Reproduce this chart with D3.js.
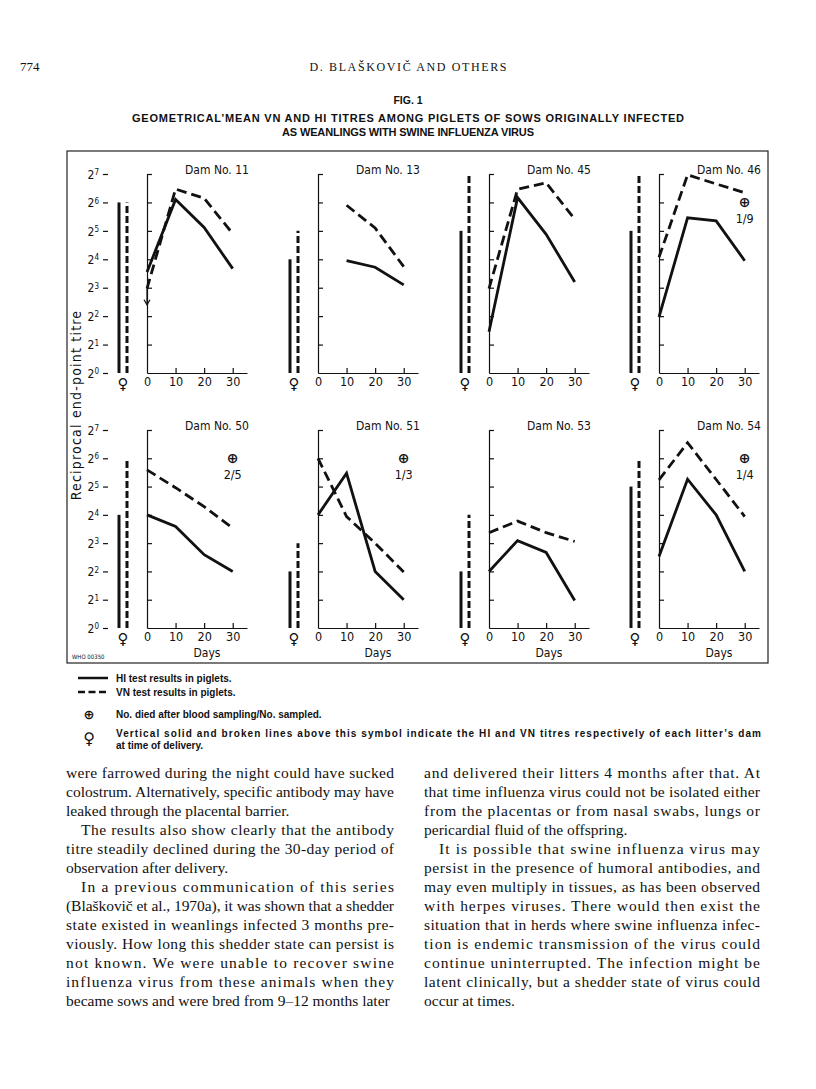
<!DOCTYPE html>
<html>
<head>
<meta charset="utf-8">
<script src="https://cdn.jsdelivr.net/npm/d3@7"></script>
<style>
  body { margin: 0; background: #fff; }
  text { fill: #111; }
  .sans { font-family: "Liberation Sans Narrow", "DejaVu Sans Condensed", "Liberation Sans", sans-serif; }
  .bold { font-family: "Liberation Sans", Arial, sans-serif; font-weight: bold; }
  .serif { font-family: "Liberation Serif", "DejaVu Serif", serif; }
  .axis path, .axis line { stroke: #111; stroke-width: 1.2; }
  .axis text { fill: #111; }
</style>
</head>
<body>
<div id="root"></div>
<script>
// geometric mean titres, as log2 values
const days = [0, 10, 20, 30];
const damNames = ['Dam No. 11', 'Dam No. 13', 'Dam No. 45', 'Dam No. 46',
                  'Dam No. 50', 'Dam No. 51', 'Dam No. 53', 'Dam No. 54'];
const hiTitres = [
  [3.55, 6.1, 5.12, 3.67],
  [null, 3.95, 3.72, 3.1],
  [1.45, 6.17, 4.88, 3.2],
  [1.97, 5.46, 5.35, 3.95],
  [4.0, 3.59, 2.59, 2.0],
  [4.0, 5.47, 2.0, 1.0],
  [2.0, 3.09, 2.67, 0.97],
  [2.53, 5.26, 4.0, 2.0]
];
const vnTitres = [
  [2.97, 6.47, 6.15, 4.9],
  [null, 5.9, 5.1, 3.74],
  [2.97, 6.46, 6.69, 5.41],
  [4.07, 6.97, 6.65, 6.34],
  [5.59, 4.96, 4.29, 3.53],
  [6.0, 3.94, 3.0, 1.98],
  [3.37, 3.78, 3.37, 3.06],
  [5.24, 6.55, 5.25, 3.94]
];
// dam's own titres at delivery (vertical bars above the female sign)
const damHI = [6, 4, 5, 5, 4, 2, 2, 5];
const damVN = [6, 5, 7, 7, 6, 3, 4, 6];
// no. died after blood sampling / no. sampled
const deaths = [null, null, null, '1/9', '2/5', '1/3', null, '1/4'];
// Dam 11, VN at day 0 is below the limit (arrow)
const belowLimit = [{ dam: 0, day: 0, from: 2.97, to: 2.4 }];
const yTicks = [0, 1, 2, 3, 4, 5, 6, 7];
const xTicks = [0, 10, 20, 30];

const headerText = 'D. BLAŠKOVIČ AND OTHERS';
const titleLines = [
  'GEOMETRICAL\u2019MEAN VN AND HI TITRES AMONG PIGLETS OF SOWS ORIGINALLY INFECTED',
  'AS WEANLINGS WITH SWINE INFLUENZA VIRUS'
];

const leftColumn = [
  ['were farrowed during the night could have sucked', 'colostrum.  Alternatively, specific antibody may have', 'leaked through the placental barrier.'],
  ['The results also show clearly that the antibody', 'titre steadily declined during the 30-day period of', 'observation after delivery.'],
  ['In a previous communication of this series', '(Blaškovič et al., 1970a), it was shown that a shedder', 'state existed in weanlings infected 3 months pre-',
   'viously.  How long this shedder state can persist is', 'not known.  We were unable to recover swine', 'influenza virus from these animals when they',
   'became sows and were bred from 9\u201312 months later']
];
const rightColumn = [
  ['and delivered their litters 4 months after that.  At', 'that time influenza virus could not be isolated either', 'from the placentas or from nasal swabs, lungs or', 'pericardial fluid of the offspring.'],
  ['It is possible that swine influenza virus may', 'persist in the presence of humoral antibodies, and', 'may even multiply in tissues, as has been observed',
   'with herpes viruses.  There would then exist the', 'situation that in herds where swine influenza infec-', 'tion is endemic transmission of the virus could',
   'continue uninterrupted.  The infection might be', 'latent clinically, but a shedder state of virus could', 'occur at times.']
];

const W = 816, H = 1089;
const panelX = [147, 318, 489, 659];
const rows = [{ top: 174, zero: 373 }, { top: 430, zero: 628 }];

const svg = d3.select('#root').append('svg')
  .attr('width', W).attr('height', H);

// page header
svg.append('text').attr('class', 'serif')
  .attr('x', 20).attr('y', 71).attr('font-size', 13).text('774');
svg.append('text').attr('class', 'serif')
  .attr('x', 408).attr('y', 71).attr('text-anchor', 'middle')
  .attr('font-size', 12).attr('textLength', 197).text(headerText);

svg.append('text').attr('class', 'bold')
  .attr('x', 408).attr('y', 104).attr('text-anchor', 'middle')
  .attr('font-size', 10.5).text('FIG. 1');
svg.selectAll('.title-line')
  .data(titleLines)
  .enter().append('text')
    .attr('class', 'bold title-line')
    .attr('x', 408)
    .attr('y', (d, i) => 122 + i * 14)
    .attr('text-anchor', 'middle')
    .attr('font-size', 11)
    .attr('textLength', (d, i) => i === 0 ? 552 : 252)
    .text(d => d);

// frame around the figure
svg.append('rect')
  .attr('x', 67).attr('y', 151).attr('width', 701).attr('height', 512)
  .attr('fill', 'none').attr('stroke', '#222').attr('stroke-width', 1.2);

svg.append('text').attr('class', 'sans')
  .attr('x', 72).attr('y', 659).attr('font-size', 6).text('WHO 00350');

// y-axis title
svg.append('text').attr('class', 'sans')
  .attr('transform', 'translate(81, 405) rotate(-90)')
  .attr('text-anchor', 'middle')
  .attr('font-size', 14)
  .attr('letter-spacing', 1.2)
  .text('Reciprocal   end-point   titre');

const line = d3.line().defined(d => d[1] != null);

damNames.forEach((name, i) => {
  const row = rows[Math.floor(i / 4)];
  const ax = panelX[i % 4];
  const x = d3.scaleLinear().domain([0, 35]).range([ax, ax + 100]);
  const y = d3.scaleLinear().domain([0, 7]).range([row.zero, row.top]);
  const g = svg.append('g');

  // log2 axis labels on the left column only
  if (i % 4 === 0) {
    const la = g.append('g')
      .attr('class', 'axis sans')
      .attr('transform', 'translate(108, 0)')
      .call(d3.axisLeft(y).tickValues(yTicks).tickSize(5).tickPadding(4)
        .tickFormat(() => ''));
    la.select('.domain').remove();
    la.selectAll('.tick text').remove();
    la.selectAll('.tick').append('text')
      .attr('x', -9).attr('dy', '0.35em')
      .attr('text-anchor', 'end')
      .attr('font-size', 12)
      .text('2')
      .append('tspan')
        .attr('dy', '-0.45em').attr('font-size', 8)
        .text(d => d);
  }

  g.append('g')
    .attr('class', 'axis')
    .attr('transform', `translate(${ax}, 0)`)
    .call(d3.axisRight(y).tickValues(yTicks.slice(1)).tickSize(5).tickSizeOuter(0).tickFormat(''));

  const xa = g.append('g')
    .attr('class', 'axis sans')
    .attr('transform', `translate(0, ${row.zero})`)
    .call(d3.axisBottom(x).tickValues(xTicks).tickSize(-5).tickSizeOuter(0).tickPadding(4));
  xa.selectAll('.tick text').attr('font-size', 12.5);
  xa.selectAll('.tick').filter(d => d === 0).select('line').remove();

  if (i >= 4) {
    g.append('text').attr('class', 'sans')
      .attr('x', x(21)).attr('y', row.zero + 29)
      .attr('text-anchor', 'middle').attr('font-size', 12).text('Days');
  }

  g.append('text').attr('class', 'sans')
    .attr('x', x(24.5)).attr('y', row.top)
    .attr('text-anchor', 'middle').attr('font-size', 12).text(name);

  // dam's titres at delivery
  g.append('line')
    .attr('x1', ax - 28).attr('x2', ax - 28)
    .attr('y1', y(0)).attr('y2', y(damHI[i]))
    .attr('stroke', '#111').attr('stroke-width', 3);
  g.append('line')
    .attr('x1', ax - 20).attr('x2', ax - 20)
    .attr('y1', y(0)).attr('y2', y(damVN[i]))
    .attr('stroke', '#111').attr('stroke-width', 3)
    .attr('stroke-dasharray', '7,3');
  g.append('text')
    .attr('x', ax - 24).attr('y', row.zero + 16)
    .attr('text-anchor', 'middle')
    .attr('font-family', 'DejaVu Sans, sans-serif')
    .attr('font-size', 15).text('\u2640');

  // piglet curves
  const hi = days.map((d, k) => [x(d), hiTitres[i][k] == null ? null : y(hiTitres[i][k])]).filter(p => p[1] != null);
  const vn = days.map((d, k) => [x(d), vnTitres[i][k] == null ? null : y(vnTitres[i][k])]).filter(p => p[1] != null);
  g.append('path').attr('d', line(hi))
    .attr('fill', 'none').attr('stroke', '#111').attr('stroke-width', 2.8)
    .attr('stroke-linejoin', 'miter');
  g.append('path').attr('d', line(vn))
    .attr('fill', 'none').attr('stroke', '#111').attr('stroke-width', 2.8)
    .attr('stroke-dasharray', '10,5');

  belowLimit.filter(b => b.dam === i).forEach(b => {
    g.append('line')
      .attr('x1', x(b.day)).attr('x2', x(b.day))
      .attr('y1', y(b.from)).attr('y2', y(b.to))
      .attr('stroke', '#111').attr('stroke-width', 1.2);
    g.append('path')
      .attr('d', `M${x(b.day) - 3},${y(b.to) - 5}L${x(b.day)},${y(b.to)}L${x(b.day) + 3},${y(b.to) - 5}`)
      .attr('fill', 'none').attr('stroke', '#111').attr('stroke-width', 1.2);
  });

  if (deaths[i]) {
    g.append('text')
      .attr('x', x(30)).attr('y', row.top + 33)
      .attr('text-anchor', 'middle')
      .attr('font-family', 'DejaVu Sans, sans-serif')
      .attr('font-size', 14).attr('font-weight', 'bold').text('\u2295');
    g.append('text').attr('class', 'sans')
      .attr('x', x(30)).attr('y', row.top + 49)
      .attr('text-anchor', 'middle').attr('font-size', 12.5).text(deaths[i]);
  }
});

// legend
const legend = svg.append('g');
legend.append('line').attr('x1', 78).attr('x2', 108).attr('y1', 678).attr('y2', 678)
  .attr('stroke', '#111').attr('stroke-width', 2.5);
legend.append('line').attr('x1', 78).attr('x2', 108).attr('y1', 692).attr('y2', 692)
  .attr('stroke', '#111').attr('stroke-width', 2.5).attr('stroke-dasharray', '7,3.5');
legend.append('text').attr('class', 'bold').attr('x', 116).attr('y', 682)
  .attr('font-size', 10).text('HI test results in piglets.');
legend.append('text').attr('class', 'bold').attr('x', 116).attr('y', 696)
  .attr('font-size', 10).text('VN test results in piglets.');
legend.append('text').attr('x', 89).attr('y', 719).attr('text-anchor', 'middle')
  .attr('font-family', 'DejaVu Sans, sans-serif').attr('font-size', 13).attr('font-weight', 'bold').text('\u2295');
legend.append('text').attr('class', 'bold').attr('x', 116).attr('y', 718)
  .attr('font-size', 10).text('No. died after blood sampling/No. sampled.');
legend.append('text').attr('x', 89).attr('y', 744).attr('text-anchor', 'middle')
  .attr('font-family', 'DejaVu Sans, sans-serif').attr('font-size', 16).text('\u2640');
legend.append('text').attr('class', 'bold').attr('x', 116).attr('y', 737)
  .attr('font-size', 10).attr('textLength', 645)
  .text('Vertical solid and broken lines above this symbol indicate the HI and VN titres respectively of each litter\u2019s dam');
legend.append('text').attr('class', 'bold').attr('x', 116).attr('y', 749)
  .attr('font-size', 10).text('at  time of delivery.');

// body text, two justified columns
function column(paras, x0, width) {
  let k = 0;
  paras.forEach((p, pi) => {
    p.forEach((txt, j) => {
      const indent = j === 0 && pi > 0 ? 15 : 0;
      const last = j === p.length - 1;
      const t = svg.append('text').attr('class', 'serif')
        .attr('x', x0 + indent).attr('y', 778 + k * 19)
        .attr('font-size', 15.5).text(txt);
      if (!last) t.attr('textLength', width - indent).attr('lengthAdjust', 'spacing');
      k++;
    });
  });
}
column(leftColumn, 66, 328);
column(rightColumn, 424, 336);
</script>
</body>
</html>
